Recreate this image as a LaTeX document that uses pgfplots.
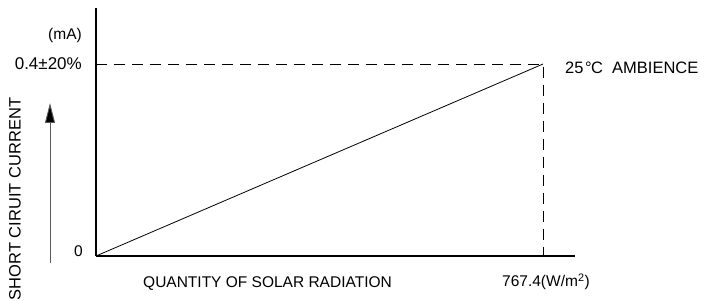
\documentclass[border=0pt]{standalone}
\usepackage{pgfplots}
\pgfplotsset{compat=1.18}
\usepackage{fontspec}
\setmainfont{Liberation Sans}
\usetikzlibrary{arrows.meta}
\begin{document}
\begin{tikzpicture}[font=\fontsize{15.5}{18}\selectfont, every node/.style={inner sep=0pt}]
\useasboundingbox (-96pt,-44pt) rectangle (608pt,256pt);
\begin{axis}[
  at={(0,0)}, anchor=south west,
  scale only axis, width=479pt, height=248pt,
  xmin=0, xmax=822.3, ymin=0, ymax=0.5167,
  axis x line=bottom, axis y line=left,
  axis line style={-, line width=1.2pt, black},
  xtick=\empty, ytick=\empty,
  clip=false,
]
\addplot[black, line width=0.8pt, dash pattern=on 11pt off 7pt] coordinates {(0,0.4) (767.4,0.4) (767.4,0)};
\addplot[black, line width=0.8pt] coordinates {(0,0) (767.4,0.4)};
\end{axis}
\node[anchor=east] at (-14pt,221pt) {(mA)};
\node[anchor=east] at (-14pt,192pt) {\fontsize{17}{18}\selectfont 0.4±20\%};
\node[anchor=east] at (-13pt,5pt) {0};
\node[rotate=90] at (-81pt,57pt) {\fontsize{16.5}{18}\selectfont SHORT CIRUIT CURRENT};
\draw[gray!70!black, line width=0.9pt, -{Triangle[length=20pt,width=10pt,fill=black]}] (-46pt,-7pt) -- (-46pt,153pt);
\node[anchor=west] at (47pt,-28pt) {QUANTITY OF SOLAR RADIATION};
\node[anchor=west] at (406pt,-26pt) {767.4(W/m\textsuperscript{2})};
\node[anchor=west] at (469pt,188pt) {\fontsize{16.5}{18}\selectfont 25\kern1.5pt°\kern-0.5ptC\ \ AMBIENCE};
\end{tikzpicture}
\end{document}
